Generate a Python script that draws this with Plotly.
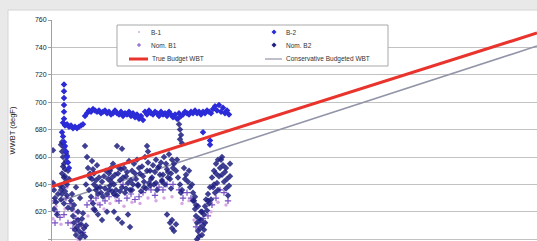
import plotly.graph_objects as go

# ---------------- data ----------------
y_ticks = [600, 620, 640, 660, 680, 700, 720, 740, 760]

budget_x = [0, 485]
true_budget_wbt = [638.5, 750.5]
conservative_budget_wbt = [626.0, 741.0]

# B-2 : upper band (blue diamonds)
b2_x = [12, 12, 12, 12, 12, 12, 11, 13, 15, 17, 19, 21, 23, 25, 27, 29, 31,
        33, 35, 37, 39, 41, 43, 45, 47, 49, 51, 53, 55, 57, 59, 61, 63, 65, 67,
        69, 71, 73, 75, 77, 79, 81, 83, 85, 87, 89, 91, 93, 95, 97, 99, 101,
        103, 105, 107, 109, 111, 113, 115, 117, 119, 121, 123, 125, 127, 129,
        131, 133, 135, 137, 139, 141, 143, 145, 147, 149, 151, 153, 155, 157,
        159, 161, 163, 165, 167, 169, 171, 173, 175, 177,
        10, 11, 12, 13, 14, 15, 16, 17, 151, 158, 158]
b2_y = [713, 708, 703, 698, 693, 688, 685, 683, 684, 682, 683, 681, 682, 681, 682, 683, 684,
        690, 692, 694, 693, 695, 694, 693, 694, 692, 693, 694, 692, 693, 691, 692, 694, 692, 691,
        693, 690, 692, 691, 693, 690, 692, 689, 691, 688, 690, 687, 693, 691, 694, 692, 691,
        693, 692, 690, 693, 691, 692, 690, 693, 691, 689, 691, 688, 692, 690,
        691, 693, 692, 691, 693, 692, 694, 692, 693, 691, 693, 692, 694, 693,
        692, 695, 697, 694, 698, 693, 696, 692, 694, 691,
        678, 675, 671, 668, 664, 660, 656, 652, 678, 672, 669]

# Nom. B2 : lower cluster (navy diamonds)
nb2_x = [1, 2, 3, 4, 2, 5, 6, 1,
         9, 10, 11, 12, 13, 10, 12, 14, 11, 13, 15, 9, 12, 16, 14, 16, 17, 8, 15, 10,
         19, 20, 21, 22, 23, 24, 25, 26, 27, 28, 29, 30, 31, 32, 33, 22, 26, 30, 34, 20, 24, 28,
         33, 35, 36, 38, 34, 37, 39, 41, 43, 40, 42, 44, 45,
         38, 40, 42, 44, 46, 48, 50, 52, 54, 56, 58, 60, 41, 45, 49, 53, 57, 59, 47, 51, 55,
         42, 46, 50, 55,
         58, 60, 62, 64, 66, 68, 70, 72, 74, 76, 78, 80, 82, 84, 86, 88, 90, 92, 94, 96, 98,
         100, 102, 104, 106, 108, 110, 112, 114, 116, 118, 120,
         61, 65, 69, 73, 77, 81, 85, 89, 93, 97, 101, 105, 109, 113, 117, 119,
         62, 66, 70, 76, 78, 115, 118, 120, 65, 70, 95, 96,
         122, 124, 126, 128, 130, 132, 134, 136, 138, 125, 129, 133, 137, 120, 122, 124,
         140, 141, 142, 143, 144, 145, 146, 147, 148, 149, 150, 151, 152, 153, 154, 155, 156,
         157, 158, 143, 146, 149, 152, 145,
         160, 162, 164, 166, 168, 170, 172, 174, 176, 161, 163, 165, 167, 169, 171, 173, 175,
         177, 178, 159,
         126, 127, 128, 129, 128, 130,
         59, 63, 67, 71, 75, 79, 83, 87, 91, 95, 99, 103, 107, 111, 115, 119, 121,
         57, 62, 68, 74, 80, 86, 92, 98, 104, 110, 116,
         10, 12, 14, 11, 13, 15, 9,
         162, 166, 170, 174, 178, 164,
         141, 144, 147, 150, 153, 156]
nb2_y = [641, 636, 630, 627, 622, 618, 633, 665,
         669, 664, 660, 655, 651, 648, 645, 642, 638, 635, 632, 629, 626, 623, 657, 650, 644, 639, 661, 633,
         628, 622, 617, 612, 607, 603, 609, 614, 606, 601, 611, 604, 619, 608, 602, 625, 620, 615, 610, 633, 638, 630,
         668, 660, 652, 645, 640, 636, 631, 626, 621, 657, 648, 643, 638,
         648, 644, 640, 636, 633, 638, 642, 646, 650, 644, 639, 635, 651, 654, 634, 637, 648, 652, 645, 631, 633,
         622, 618, 614, 620,
         650, 645, 640, 636, 648, 643, 638, 652, 646, 641, 636, 650, 655, 644, 639, 648, 653, 642, 637, 656, 650,
         645, 640, 658, 652, 647, 642, 660, 655, 649, 644, 658,
         655, 632, 651, 634, 657, 640, 658, 635, 660, 641, 654, 636, 656, 640, 662, 637,
         620, 615, 612, 618, 609, 618, 612, 608, 668, 666, 668, 664,
         655, 650, 645, 640, 636, 652, 647, 642, 638, 658, 634, 644, 650, 614, 606, 611,
         640, 634, 628, 622, 617, 612, 606, 602, 608, 614, 603, 610, 618, 624, 629, 621, 633,
         626, 638, 631, 624, 620, 607, 600,
         645, 650, 655, 658, 652, 647, 642, 637, 632, 638, 634, 641, 646, 658, 654, 649, 644,
         639, 655, 629,
         688, 684, 680, 676, 673, 670,
         642, 647, 652, 645, 649, 643, 648, 652, 646, 650, 644, 649, 653, 647, 651, 648, 652,
         636, 633, 635, 637, 636, 640, 638, 639, 641, 643, 645,
         671, 667, 663, 653, 646, 640, 636,
         640, 636, 660, 652, 646, 648,
         628, 625, 615, 620, 612, 628]

# Nom. B1 : purple crosses
nb1_x = [2, 5, 3, 8, 14, 18, 21, 24, 27, 31, 35, 39, 44, 48, 53, 57, 63, 67, 71, 75, 79,
         83, 87, 91, 99, 103, 107, 111, 115, 121, 127, 131, 135, 139, 144, 148, 151, 156,
         160, 164, 168, 172, 176, 12, 16]
nb1_y = [628, 620, 612, 616, 630, 626, 608, 615, 611, 605, 625, 628, 630, 625, 628, 631, 632,
         628, 640, 630, 633, 629, 631, 634, 636, 632, 638, 636, 640, 640, 636, 630, 634, 630,
         609, 612, 615, 617, 625, 630, 636, 634, 628, 618, 612]

# B-1 : small light dots
b1_x = [1, 4, 9, 13, 19, 23, 26, 30, 36, 40, 46, 52, 58, 64, 72, 80, 88, 96, 104, 112,
        120, 130, 137, 142, 147, 154, 159, 166, 174, 11, 15]
b1_y = [615, 624, 611, 622, 612, 620, 600, 609, 617, 622, 626, 622, 626, 628, 624, 627, 626,
        630, 628, 630, 631, 626, 628, 614, 604, 612, 620, 627, 625, 646, 638]

legend_names = ["B-1", "B-2", "Nom. B1", "Nom. B2", "True Budget WBT", "Conservative Budgeted WBT"]

# ---------------- colours ----------------
C_B1 = "#d8a8e4"
C_B2 = "#2b2bd8"
C_NB1 = "#7a50c4"
C_NB2 = "#1e1e80"
C_TRUE = "#e8342c"
C_CONS = "#9294a8"

fig = go.Figure()
fig.add_trace(go.Scatter(x=budget_x, y=conservative_budget_wbt, mode="lines",
                         name=legend_names[5], line=dict(color=C_CONS, width=1.6), showlegend=False))
fig.add_trace(go.Scatter(x=b1_x, y=b1_y, mode="markers", name=legend_names[0],
                         marker=dict(symbol="circle", size=3.5, color=C_B1), showlegend=False))
fig.add_trace(go.Scatter(x=nb1_x, y=nb1_y, mode="markers", name=legend_names[2],
                         marker=dict(symbol="cross-thin", size=4.5, line=dict(color=C_NB1, width=1.2)),
                         showlegend=False))
fig.add_trace(go.Scatter(x=nb2_x, y=nb2_y, mode="markers", name=legend_names[3],
                         marker=dict(symbol="diamond", size=5, color=C_NB2, opacity=0.85), showlegend=False))
fig.add_trace(go.Scatter(x=b2_x, y=b2_y, mode="markers", name=legend_names[1],
                         marker=dict(symbol="diamond", size=5, color=C_B2), showlegend=False))
fig.add_trace(go.Scatter(x=budget_x, y=true_budget_wbt, mode="lines",
                         name=legend_names[4], line=dict(color=C_TRUE, width=3), showlegend=False))

# ---------------- layout ----------------
L, T, W, H = 52, 20, 537, 241
PW, PH = W - L, H - T


def X(px):
    return (px - L) / PW


def Y(py):
    return (H - py) / PH


shapes = [
    # chart area (white) over grey page background
    dict(type="rect", xref="paper", yref="paper", x0=X(8), x1=X(540), y0=Y(244), y1=Y(10),
         fillcolor="white", line=dict(color="#d4d4d4", width=1), layer="below"),
    # legend box
    dict(type="rect", xref="paper", yref="paper", x0=X(117), x1=X(388), y0=Y(66), y1=Y(25),
         fillcolor="white", line=dict(color="#a8a8a8", width=1), layer="above"),
    # legend symbols
    dict(type="circle", xref="paper", yref="paper", x0=X(138), x1=X(140), y0=Y(33), y1=Y(31),
         fillcolor=C_B1, line=dict(width=0), layer="above"),
    dict(type="line", xref="paper", yref="paper", x0=X(137), x1=X(141), y0=Y(45), y1=Y(45),
         line=dict(color=C_NB1, width=1), layer="above"),
    dict(type="line", xref="paper", yref="paper", x0=X(139), x1=X(139), y0=Y(47), y1=Y(43),
         line=dict(color=C_NB1, width=1), layer="above"),
    dict(type="path", xref="paper", yref="paper",
         path=f"M {X(274)},{Y(29.5)} L {X(276.5)},{Y(32)} L {X(274)},{Y(34.5)} L {X(271.5)},{Y(32)} Z",
         fillcolor=C_B2, line=dict(width=0), layer="above"),
    dict(type="path", xref="paper", yref="paper",
         path=f"M {X(274)},{Y(42.5)} L {X(276.5)},{Y(45)} L {X(274)},{Y(47.5)} L {X(271.5)},{Y(45)} Z",
         fillcolor=C_NB2, line=dict(width=0), layer="above"),
    dict(type="line", xref="paper", yref="paper", x0=X(129), x1=X(148), y0=Y(59), y1=Y(59),
         line=dict(color=C_TRUE, width=3), layer="above"),
    dict(type="line", xref="paper", yref="paper", x0=X(265), x1=X(282), y0=Y(59), y1=Y(59),
         line=dict(color=C_CONS, width=1.2), layer="above"),
]

leg_font = dict(family="Liberation Sans, Arial, sans-serif", size=6.5, color="#333333")
leg_pos = [(149, 32), (284, 32), (149, 45), (284, 45), (150, 59), (284, 59)]
annotations = [
    dict(xref="paper", yref="paper", x=X(px), y=Y(py), text=name, showarrow=False,
         xanchor="left", yanchor="middle", font=leg_font)
    for name, (px, py) in zip(legend_names, leg_pos)
]

fig.update_layout(
    width=W, height=H,
    margin=dict(l=L, r=0, t=T, b=0, pad=0),
    paper_bgcolor="#e9e9e9",
    plot_bgcolor="white",
    showlegend=False,
    shapes=shapes,
    annotations=annotations,
    font=dict(family="Liberation Sans, Arial, sans-serif", color="#222222"),
    xaxis=dict(range=[0, 485], showgrid=False, zeroline=False, showticklabels=False,
               ticks="", showline=False),
    yaxis=dict(range=[598.7, 760], tickvals=y_ticks, showgrid=True, gridcolor="#c2c2c2",
               gridwidth=1.3, zeroline=False, showline=True, linecolor="#a0a0a0", linewidth=1,
               ticks="outside", ticklen=3, tickcolor="#a0a0a0",
               tickfont=dict(size=7, color="#222222"),
               title=dict(text="WWBT (degF)", font=dict(size=7.5, color="#222222"), standoff=18)),
)

fig.write_html(
    "out.html",
    config={"displayModeBar": False},
    post_script="document.body.style.margin='0';document.body.style.padding='0';"
                "document.body.style.overflow='hidden';"
                "document.documentElement.style.overflow='hidden';",
)
